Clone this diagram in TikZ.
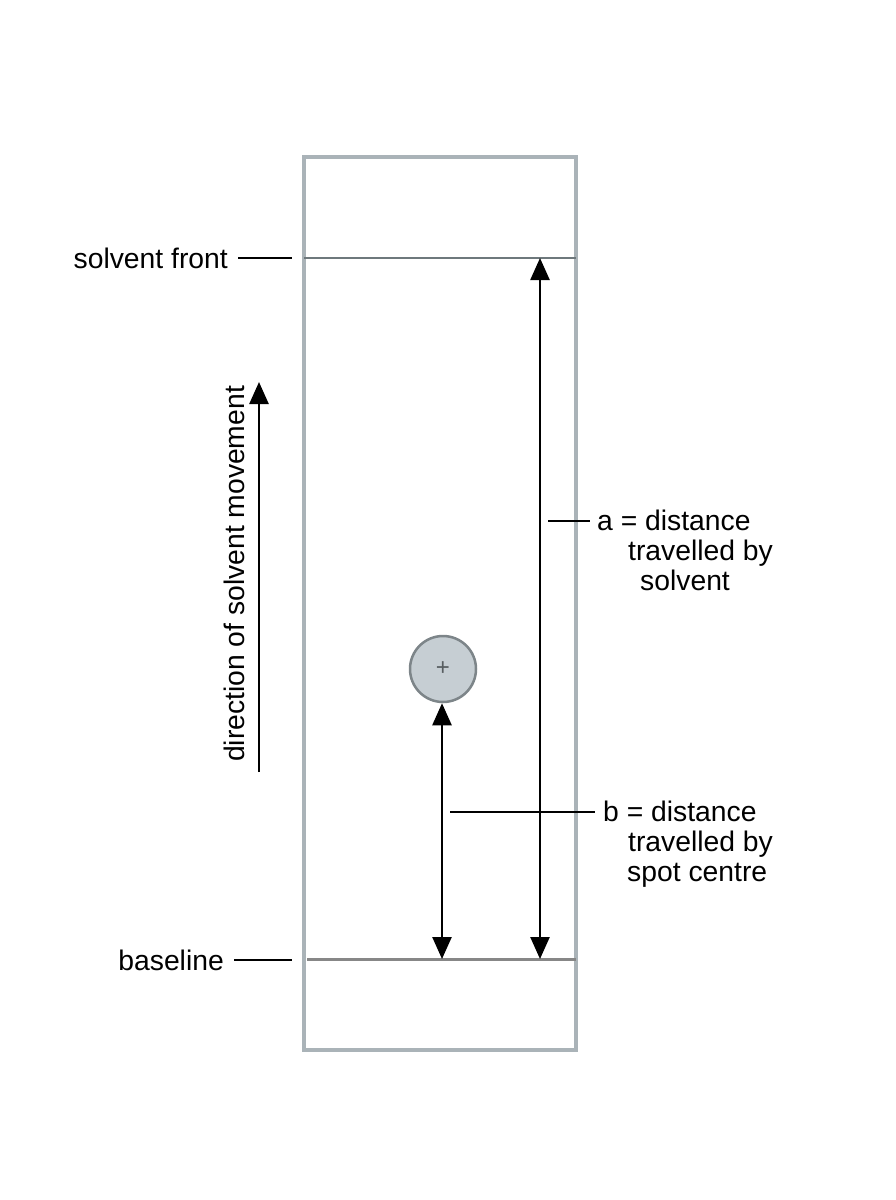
\documentclass[tikz,border=0pt]{standalone}
\usepackage{fontspec}
\setmainfont{Liberation Sans}
\definecolor{plategray}{RGB}{170,179,184}
\definecolor{frontgray}{RGB}{110,120,124}
\definecolor{basegray}{RGB}{135,135,135}
\definecolor{spotfill}{RGB}{198,206,211}
\definecolor{spotedge}{RGB}{125,133,137}
\usetikzlibrary{arrows.meta,positioning}

\begin{document}
\begin{tikzpicture}[x=1pt,y=-1pt,
  lbl/.style={font=\fontsize{28.3}{30}\selectfont,inner sep=0pt,align=left},
  lead/.style={line width=1.2pt},
  dist/.style={line width=2.5pt,{Triangle[length=22pt,width=19pt]}-{Triangle[length=22pt,width=19pt]}},
  spot/.style={circle,draw=spotedge,line width=2.5pt,fill=spotfill,minimum size=66pt,inner sep=0pt,
    text=spotedge!70!black,font=\fontsize{24}{24}\selectfont}]
  \useasboundingbox (0,0) rectangle (896,1200);
  % plate with solvent front and baseline
  \draw[plategray,line width=4pt] (304,157) rectangle (576,1050);
  \coordinate (frontL) at (304,258);
  \coordinate (frontR) at (576,258);
  \coordinate (baseL) at (307,959);
  \coordinate (baseR) at (576,959);
  \draw[frontgray,line width=2pt] (frontL) -- (frontR);
  \draw[basegray,line width=3pt] (baseL) -- (baseR);
  % left labels
  \node[lbl,anchor=east] (sfront) at (228,258) {solvent front};
  \node[lbl,anchor=east] (bline) at (224,960) {baseline};
  \draw[lead] ([xshift=10pt]sfront.east) -- ([xshift=-12pt]frontL);
  \draw[lead] ([xshift=10pt]bline.east) -- ([xshift=-15pt]baseL|-bline.east);
  % direction of movement
  \coordinate (dirS) at (259,772);
  \coordinate (dirE) at (259,382);
  \draw[line width=2.5pt,-{Triangle[length=22pt,width=19pt]}] (dirS) -- (dirE);
  \node[lbl,rotate=90] (dirtxt) at (234,574) {direction of solvent movement};
  % spot
  \node[spot] (spot) at (443,669) {+};
  % distances
  \coordinate (atop) at (540,258);
  \coordinate (abot) at (540,959);
  \coordinate (bbot) at (442,959);
  \draw[dist] (abot) -- (atop);
  \draw[dist] (bbot) -- (bbot|-spot.south);
  % distance labels
  \coordinate (aleadL) at (548,521);
  \coordinate (aleadR) at (590,521);
  \coordinate (bleadL) at (450,812);
  \coordinate (bleadR) at (595,812);
  \draw[lead] (aleadL) -- (aleadR);
  \draw[lead] (bleadL) -- (bleadR);
  \node[lbl,anchor=north west] (atxt) at (597,510)
    {a = distance\\\hspace*{31pt}travelled by\\\hspace*{43pt}solvent};
  \node[lbl,anchor=north west] (btxt) at (603,801)
    {b = distance\\\hspace*{25pt}travelled by\\\hspace*{24pt}spot centre};
\end{tikzpicture}
\end{document}
